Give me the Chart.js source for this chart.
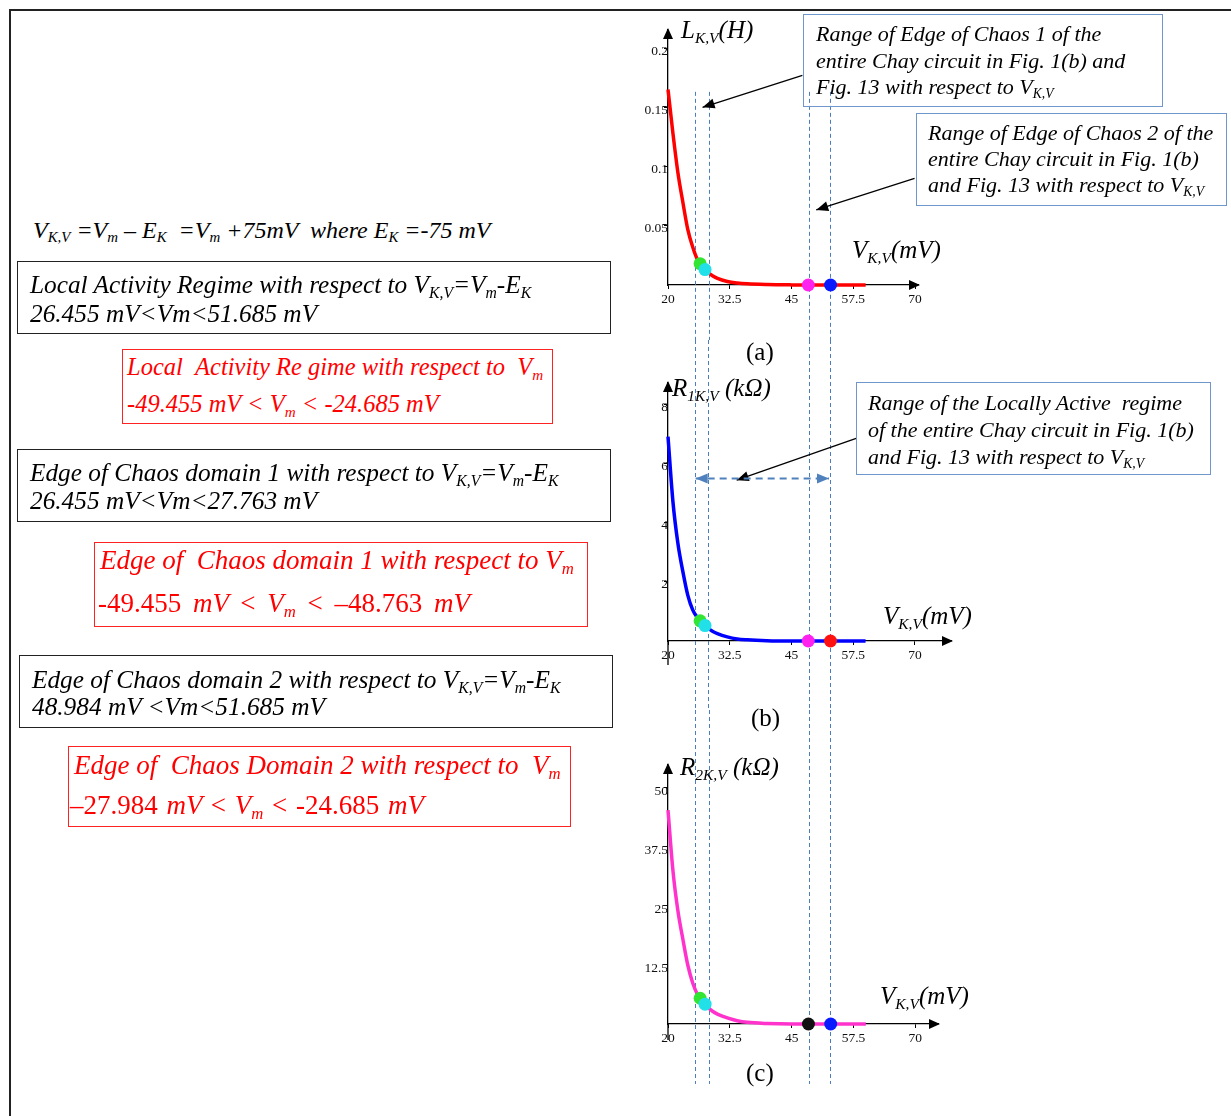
<!DOCTYPE html>
<html>
<head>
<meta charset="utf-8">
<script src="https://cdn.jsdelivr.net/npm/chart.js@4.4.1/dist/chart.umd.min.js"></script>
<style>
  body { margin:0; width:1231px; height:1116px; overflow:hidden; position:relative; background:#fff; font-family:"Liberation Serif", "Times New Roman", serif; }
  .frame { position:absolute; left:9px; top:9px; width:1300px; height:1200px; border:2px solid #222; }
  canvas.plot { position:absolute; left:560px; }
  .t { position:absolute; white-space:nowrap; font-style:italic; line-height:1.2; color:#000; }
  .box { position:absolute; box-sizing:border-box; }
  .blk { border:1.5px solid #222; }
  .redb { border:1.5px solid #f22; }
  .blu { border:1.5px solid #6f97cc; }
  .red { color:#f00; }
  .up { font-style:normal; }
  sub { font-size:62%; vertical-align:-0.3em; line-height:0; }
</style>
</head>
<body>
<div class="frame"></div>

<canvas id="chartA" class="plot" width="671" height="340" style="top:0px"></canvas>
<canvas id="chartB" class="plot" width="671" height="370" style="top:340px"></canvas>
<canvas id="chartC" class="plot" width="671" height="406" style="top:710px"></canvas>

<!-- left side: definitions and regimes -->
<div class="t" style="left:33px;top:216px;font-size:24px">V<sub>K,V</sub> =V<sub>m</sub> – E<sub>K</sub> &nbsp;=V<sub>m</sub> +75mV &nbsp;where E<sub>K</sub> =-75 mV</div>

<div class="box blk" style="left:17px;top:261px;width:594px;height:73px"></div>
<div class="t" style="left:30px;top:269px;font-size:25.3px">Local Activity Regime with respect to V<sub>K,V</sub>=V<sub>m</sub>-E<sub>K</sub></div>
<div class="t" style="left:30px;top:298px;font-size:25.3px">26.455 mV&lt;Vm&lt;51.685 mV</div>

<div class="box redb" style="left:122px;top:349px;width:431px;height:75px"></div>
<div class="t red" style="left:127px;top:352px;font-size:24.5px">Local &nbsp;Activity Re gime with respect to &nbsp;V<sub>m</sub></div>
<div class="t red" style="left:127px;top:389px;font-size:24.5px">-49.455 mV &lt; V<sub>m</sub> &lt; -24.685 mV</div>

<div class="box blk" style="left:17px;top:449px;width:594px;height:73px"></div>
<div class="t" style="left:30px;top:457px;font-size:25.3px">Edge of Chaos domain 1 with respect to V<sub>K,V</sub>=V<sub>m</sub>-E<sub>K</sub></div>
<div class="t" style="left:30px;top:485px;font-size:25.3px">26.455 mV&lt;Vm&lt;27.763 mV</div>

<div class="box redb" style="left:94px;top:542px;width:494px;height:85px"></div>
<div class="t red" style="left:100px;top:544px;font-size:27px">Edge of &nbsp;Chaos domain 1 with respect to V<sub>m</sub></div>
<div class="t red" style="left:98px;top:587px;font-size:27px;word-spacing:5px"><span class="up">-49.455</span> mV <span class="up">&lt;</span> V<sub>m</sub> <span class="up">&lt; –48.763</span> mV</div>

<div class="box blk" style="left:19px;top:655px;width:594px;height:73px"></div>
<div class="t" style="left:32px;top:664px;font-size:25.3px">Edge of Chaos domain 2 with respect to V<sub>K,V</sub>=V<sub>m</sub>-E<sub>K</sub></div>
<div class="t" style="left:32px;top:691px;font-size:25.3px">48.984 mV &lt;Vm&lt;51.685 mV</div>

<div class="box redb" style="left:68px;top:746px;width:503px;height:81px"></div>
<div class="t red" style="left:74px;top:749px;font-size:27px">Edge of &nbsp;Chaos Domain 2 with respect to &nbsp;V<sub>m</sub></div>
<div class="t red" style="left:70px;top:789px;font-size:27px;word-spacing:2px"><span class="up">–27.984</span> mV <span class="up">&lt;</span> V<sub>m</sub> <span class="up">&lt; -24.685</span> mV</div>

<!-- right side: callout boxes -->
<div class="box blu" style="left:803px;top:14px;width:360px;height:93px"></div>
<div class="t" style="left:816px;top:21px;font-size:22px">Range of Edge of Chaos 1 of the</div>
<div class="t" style="left:816px;top:48px;font-size:22px">entire Chay circuit in Fig. 1(b) and</div>
<div class="t" style="left:816px;top:74px;font-size:22px">Fig. 13 with respect to V<sub>K,V</sub></div>

<div class="box blu" style="left:916px;top:113px;width:311px;height:93px"></div>
<div class="t" style="left:928px;top:120px;font-size:22px">Range of Edge of Chaos 2 of the</div>
<div class="t" style="left:928px;top:146px;font-size:22px">entire Chay circuit in Fig. 1(b)</div>
<div class="t" style="left:928px;top:172px;font-size:22px">and Fig. 13 with respect to V<sub>K,V</sub></div>

<div class="box blu" style="left:856px;top:382px;width:355px;height:93px"></div>
<div class="t" style="left:868px;top:390px;font-size:22px">Range of the Locally Active &nbsp;regime</div>
<div class="t" style="left:868px;top:417px;font-size:22px">of the entire Chay circuit in Fig. 1(b)</div>
<div class="t" style="left:868px;top:444px;font-size:22px">and Fig. 13 with respect to V<sub>K,V</sub></div>

<!-- axis titles and panel labels -->
<div class="t" style="left:681px;top:15px;font-size:25px">L<sub>K,V</sub>(H)</div>
<div class="t" style="left:852px;top:235px;font-size:25px">V<sub>K,V</sub>(mV)</div>
<div class="t" style="left:672px;top:373px;font-size:25px">R<sub>1K,V</sub> (kΩ)</div>
<div class="t" style="left:883px;top:601px;font-size:25px">V<sub>K,V</sub>(mV)</div>
<div class="t" style="left:680px;top:752px;font-size:25px">R<sub>2K,V</sub> (kΩ)</div>
<div class="t" style="left:880px;top:981px;font-size:25px">V<sub>K,V</sub>(mV)</div>
<div class="t up" style="left:746px;top:337px;font-size:25px">(a)</div>
<div class="t up" style="left:751px;top:703px;font-size:25px">(b)</div>
<div class="t up" style="left:746px;top:1058px;font-size:25px">(c)</div>

<script>
// V_K,V sample points (mV) and the three curves
const vkv  = [20, 21, 22, 23, 24, 25, 26, 27, 28, 29, 30, 32, 34, 36, 40, 45, 50, 55, 60];
const lkv  = [0.165, 0.128, 0.095, 0.070, 0.047, 0.032, 0.021, 0.0155, 0.011, 0.0078, 0.0056, 0.003, 0.0017, 0.001, 0.0004, 0.0001, 0, 0, 0];
const r1kv = [6.9, 4.7, 3.3, 2.35, 1.55, 1.05, 0.78, 0.58, 0.44, 0.33, 0.25, 0.14, 0.07, 0.04, 0.01, 0, 0, 0, 0];
const r2kv = [45.3, 32.5, 24, 18, 12.5, 8.7, 6.2, 4.7, 3.6, 2.7, 2.1, 1.3, 0.7, 0.35, 0.1, 0, 0, 0, 0];

const xTicks  = [20, 32.5, 45, 57.5, 70];
const lTicks  = [0.05, 0.1, 0.15, 0.2];
const r1Ticks = [2, 4, 6, 8];
const r2Ticks = [12.5, 25, 37.5, 50];

// edge of chaos boundaries (dashed lines) and the marked points
const edgeLines = [25.4, 28.2, 48.5, 52.7];
const dotX   = [26.5, 27.5, 48.4, 52.9];
const lDots  = [0.018, 0.013, 0, 0];
const r1Dots = [0.68, 0.52, 0, 0];
const r2Dots = [5.45, 4.2, 0, 0];

function head(ctx, x1, y1, x2, y2, len, w) {
  const a = Math.atan2(y2 - y1, x2 - x1);
  const bx = x2 - len * Math.cos(a), by = y2 - len * Math.sin(a);
  ctx.beginPath();
  ctx.moveTo(x2, y2);
  ctx.lineTo(bx + w * Math.sin(a), by - w * Math.cos(a));
  ctx.lineTo(bx - w * Math.sin(a), by + w * Math.cos(a));
  ctx.closePath();
  ctx.fill();
}

const decor = {
  id: 'decor',
  beforeDatasetsDraw(chart, args, o) {
    const ctx = chart.ctx, x = chart.scales.x, y = chart.scales.y;
    const top = o.lineTop == null ? 0 : y.getPixelForValue(o.lineTop);
    const bot = o.lineBottom == null ? chart.height : y.getPixelForValue(o.lineBottom);
    ctx.save();
    ctx.strokeStyle = '#4a7ebf';
    ctx.lineWidth = 1;
    ctx.setLineDash([4, 3]);
    edgeLines.forEach(v => {
      const px = Math.round(x.getPixelForValue(v)) + 0.5;
      ctx.beginPath(); ctx.moveTo(px, top); ctx.lineTo(px, bot); ctx.stroke();
    });
    ctx.restore();
  },
  afterDraw(chart, args, o) {
    const ctx = chart.ctx, x = chart.scales.x, y = chart.scales.y, ca = chart.chartArea;
    ctx.save();
    ctx.fillStyle = '#000';
    ctx.strokeStyle = '#000';
    ctx.lineWidth = 1.3;
    // axis arrow heads, y axis runs a bit under the origin
    ctx.beginPath(); ctx.moveTo(ca.left, ca.bottom); ctx.lineTo(ca.left, ca.bottom + (o.yExt || 0)); ctx.stroke();
    head(ctx, ca.left, ca.bottom, ca.right + 2, ca.bottom, 11, 5);
    head(ctx, ca.left, ca.bottom, ca.left, ca.top - 2, 11, 5);
    // callout arrows
    (o.arrows || []).forEach(a => {
      const x1 = x.getPixelForValue(a.from[0]), y1 = y.getPixelForValue(a.from[1]);
      const x2 = x.getPixelForValue(a.to[0]), y2 = y.getPixelForValue(a.to[1]);
      ctx.strokeStyle = a.color; ctx.fillStyle = a.color;
      ctx.lineWidth = a.width;
      ctx.setLineDash(a.dash || []);
      ctx.beginPath(); ctx.moveTo(x1, y1); ctx.lineTo(x2, y2); ctx.stroke();
      ctx.setLineDash([]);
      head(ctx, x1, y1, x2, y2, 12, 5);
      if (a.both) head(ctx, x2, y2, x1, y1, 12, 5);
    });
    ctx.restore();
  }
};

function makeChart(id, ys, dotsY, dotColors, color, cfg) {
  return new Chart(document.getElementById(id), {
    type: 'line',
    data: {
      datasets: [
        {
          data: dotX.map((v, i) => ({ x: v, y: dotsY[i] })),
          showLine: false,
          pointRadius: 6.5,
          pointBorderWidth: 0,
          pointBackgroundColor: dotColors,
          clip: false
        },
        {
          data: vkv.map((v, i) => ({ x: v, y: ys[i] })),
          borderColor: color,
          borderWidth: 3.5,
          pointRadius: 0,
          cubicInterpolationMode: 'monotone',
          clip: false
        }
      ]
    },
    options: {
      responsive: false,
      animation: false,
      events: [],
      layout: { padding: cfg.pad },
      plugins: {
        legend: { display: false },
        tooltip: { enabled: false },
        decor: { lineTop: cfg.lineTop, lineBottom: cfg.lineBottom, yExt: cfg.yExt, arrows: cfg.arrows }
      },
      scales: {
        x: {
          type: 'linear', min: 20, max: cfg.xMax,
          afterBuildTicks: s => { s.ticks = xTicks.map(v => ({ value: v })); },
          afterFit: s => { s.height = 40; },
          ticks: { autoSkip: false, maxRotation: 0, padding: 2, color: '#111', font: { family: 'Liberation Serif', size: 13.5 }, callback: v => String(v) },
          grid: { drawOnChartArea: false, tickLength: 4, color: '#000' },
          border: { color: '#000', width: 1.3 }
        },
        y: {
          type: 'linear', min: 0, max: cfg.yMax,
          afterBuildTicks: s => { s.ticks = cfg.yTicks.map(v => ({ value: v })); },
          afterFit: s => { s.width = 108; },
          ticks: { autoSkip: false, padding: -4, labelOffset: 3, color: '#111', font: { family: 'Liberation Serif', size: 13.5 }, callback: v => String(v) },
          grid: { drawOnChartArea: false, tickLength: 4, color: '#000' },
          border: { color: '#000', width: 1.3 }
        }
      }
    },
    plugins: [decor]
  });
}

makeChart('chartA', lkv, lDots, ['#33e533', '#22e0e8', '#ff22ee', '#0a1aff'], '#ff0000', {
  pad: { left: 0, right: 313, top: 30, bottom: 15 },
  xMax: 70.6, yMax: 0.2152, yTicks: lTicks,
  lineTop: 0.163, yExt: 0,
  arrows: [
    { from: [47.2, 0.177], to: [27.0, 0.15], color: '#000', width: 1.3 },
    { from: [69.9, 0.090], to: [50.0, 0.0633], color: '#000', width: 1.3 }
  ]
});

makeChart('chartB', r1kv, r1Dots, ['#33e533', '#22e0e8', '#ff22ee', '#ff1111'], '#0000ff', {
  pad: { left: 0, right: 280, top: 43, bottom: 29 },
  xMax: 77.3, yMax: 8.71, yTicks: r1Ticks,
  yExt: 24,
  arrows: [
    { from: [58.1, 6.84], to: [33.9, 5.43], color: '#000', width: 1.3 },
    { from: [25.6, 5.49], to: [52.6, 5.49], color: '#4f81bd', width: 2, dash: [7, 5], both: true }
  ]
});

makeChart('chartC', r2kv, r2Dots, ['#33e533', '#22e0e8', '#111111', '#0a1aff'], '#ff33cc', {
  pad: { left: 0, right: 293, top: 55, bottom: 52 },
  xMax: 74.6, yMax: 54.87, yTicks: r2Ticks,
  lineBottom: -12.7, yExt: 16,
  arrows: []
});
</script>
</body>
</html>
